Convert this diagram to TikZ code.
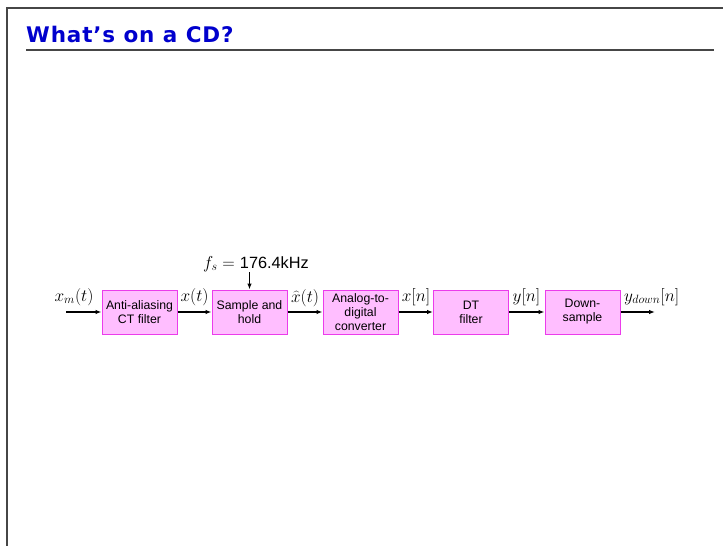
\documentclass[tikz,border=0pt]{standalone}
\usepackage{fontspec}
\setsansfont{Liberation Sans}
\newfontfamily\titlefont[LetterSpace=4]{DejaVu Sans}
\usetikzlibrary{arrows.meta}
\definecolor{boxfill}{RGB}{255,190,255}
\definecolor{boxdraw}{RGB}{235,60,235}
\definecolor{titleblue}{RGB}{0,0,205}
\definecolor{framegray}{RGB}{70,70,70}
\begin{document}
\begin{tikzpicture}[x=1pt,y=1pt,
  blk/.style={draw=boxdraw, fill=boxfill, line width=1pt, minimum width=75pt, minimum height=44pt,
    inner sep=0pt, align=center, font=\sffamily\fontsize{12.3}{14}\selectfont},
  sig/.style={font=\fontsize{17}{20}\selectfont, inner sep=0pt, anchor=base},
  conn/.style={line width=1.1pt, -{Latex[length=6pt,width=4.5pt]}}]
\useasboundingbox (0,0) rectangle (723,-546);
% frame
\draw[framegray, line width=1.5pt] (7,-546) -- (7,-8) -- (723,-8);
\draw[framegray, line width=1.5pt] (26,-50) -- (714,-50);
\node[anchor=base west, inner sep=0pt, text=titleblue, font=\titlefont\bfseries\fontsize{21.5}{24}\selectfont] (title) at (26,-42) {What’s on a CD?};
% blocks
\node[blk] (b1) at (139.5,-312) {Anti-aliasing\\CT filter};
\node[blk] (b2) at (249.5,-312) {Sample and\\hold};
\node[blk] (b3) at (360.5,-312) {Analog-to-\\digital\\converter};
\node[blk] (b4) at (471,-312) {DT\\filter};
\node[blk] (b5) at (582.5,-312) {Down-\\sample};
% connectors
\coordinate (in) at (66,-312);
\coordinate (out) at (655,-312);
\coordinate (fs) at (249.5,-272);
\draw[conn] (in) -- (b1);
\draw[conn] (b1) -- (b2);
\draw[conn] (b2) -- (b3);
\draw[conn] (b3) -- (b4);
\draw[conn] (b4) -- (b5);
\draw[conn] (b5) -- (out);
\draw[conn] (fs) -- (b2.north);
% labels
\node[sig] (lxm) at (74,-301) {$x_m(t)$};
\node[sig] (lx) at (194.5,-301) {$x(t)$};
\node[sig] (lxh) at (305,-302) {$\widehat{x}(t)$};
\node[sig] (lxn) at (416,-301) {$x[n]$};
\node[sig] (lyn) at (526.5,-301) {$y[n]$};
\node[sig, anchor=base west] (lyd) at (624,-301) {$y_{down}[n]$};
\node[sig] (lfs) at (256,-268) {$f_s =$ {\sffamily\fontsize{16.3}{20}\selectfont 176.4kHz}};
\end{tikzpicture}
\end{document}
